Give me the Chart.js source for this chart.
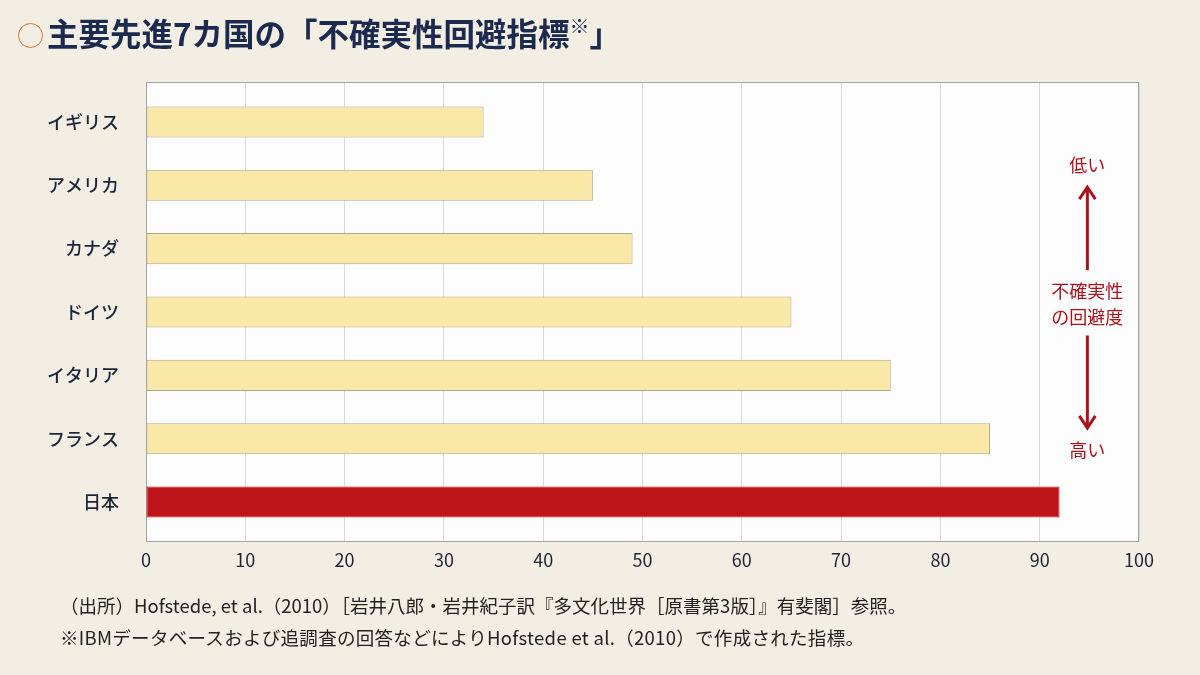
<!DOCTYPE html>
<html lang="ja">
<head>
<meta charset="utf-8">
<title>主要先進7カ国の「不確実性回避指標」</title>
<script src="https://cdn.jsdelivr.net/npm/chart.js@4.4.1/dist/chart.umd.min.js"></script>
<style>
    html, body {
        margin: 0;
        padding: 0;
        background: #f2eee3;
        font-family: "Noto Sans CJK JP", "Noto Sans", sans-serif;
    }
    #wrap {
        position: relative;
        width: 1200px;
        height: 675px;
        overflow: hidden;
    }
    #chart {
        position: absolute;
        left: 0;
        top: 0;
    }
    .title {
        position: absolute;
        left: 18px;
        top: 14px;
        font-size: 31.5px;
        line-height: 36px;
        font-weight: bold;
        color: #1b2a4e;
        white-space: nowrap;
    }
    .title .ring {
        display: inline-block;
        width: 23px;
        height: 23px;
        border: 1.5px solid #d9772e;
        border-radius: 50%;
        margin-right: 4px;
        vertical-align: -2px;
    }
    .title sup {
        font-size: 20px;
        vertical-align: 12px;
        line-height: 0;
    }
    .note {
        position: absolute;
        left: 60px;
        font-size: 18.5px;
        line-height: 22px;
        color: #222;
        white-space: nowrap;
    }
</style>
</head>
<body>
<div id="wrap">
    <canvas id="chart" width="1200" height="675"></canvas>
    <div class="title"><span class="ring"></span>主要先進7カ国の「不確実性回避指標<sup>※</sup>」</div>
    <div class="note" style="top:594px">（出所）Hofstede, et al.（2010）［岩井八郎・岩井紀子訳『多文化世界［原書第3版］』有斐閣］参照。</div>
    <div class="note" style="top:626px; letter-spacing:0.3px">※IBMデータベースおよび追調査の回答などによりHofstede et al.（2010）で作成された指標。</div>
</div>
<script>
// データ
const countries = ['イギリス', 'アメリカ', 'カナダ', 'ドイツ', 'イタリア', 'フランス', '日本'];
const uaiValues = [34, 45, 49, 65, 75, 85, 92];
const xTicks = [0, 10, 20, 30, 40, 50, 60, 70, 80, 90, 100];

const barFill = countries.map(c => c === '日本' ? '#c0141b' : '#fae8a8');
const barEdge = countries.map(c => c === '日本' ? '#c0141b' : '#b3a886');

const navy = '#1e2538';
const darkRed = '#a8141c';

// 背景と枠線、右側の注記
const plotFrame = {
    id: 'plotFrame',
    beforeDraw(chart) {
        const a = chart.chartArea;
        const ctx = chart.ctx;
        ctx.save();
        ctx.fillStyle = '#fdfdfd';
        ctx.fillRect(a.left, a.top, a.right - a.left, a.bottom - a.top);
        ctx.restore();
    },
    beforeDatasetsDraw(chart) {
        const a = chart.chartArea;
        const ctx = chart.ctx;
        ctx.save();
        ctx.strokeStyle = '#a3a3a3';
        ctx.lineWidth = 1;
        ctx.strokeRect(a.left + 0.5, a.top + 0.5, a.right - a.left - 1, a.bottom - a.top - 1);
        ctx.restore();
    },
    afterDatasetsDraw(chart) {
        const xs = chart.scales.x;
        const ys = chart.scales.y;
        const ctx = chart.ctx;
        const cx = xs.getPixelForValue(94.8);
        ctx.save();
        ctx.fillStyle = darkRed;
        ctx.strokeStyle = darkRed;
        ctx.font = '18px "Noto Sans CJK JP"';
        ctx.textAlign = 'center';
        ctx.textBaseline = 'middle';
        ctx.fillText('低い', cx, ys.getPixelForValue(0.69));
        ctx.fillText('不確実性', cx, ys.getPixelForValue(2.67));
        ctx.fillText('の回避度', cx, ys.getPixelForValue(3.08));
        ctx.fillText('高い', cx, ys.getPixelForValue(5.18));

        // 矢印
        const arrow = (y0, y1) => {
            const p0 = ys.getPixelForValue(y0);
            const p1 = ys.getPixelForValue(y1);
            const dir = p1 > p0 ? 1 : -1;
            ctx.lineWidth = 3;
            ctx.lineCap = 'butt';
            ctx.beginPath();
            ctx.moveTo(cx, p0);
            ctx.lineTo(cx, p1 - dir * 1);
            ctx.stroke();
            ctx.lineJoin = 'miter';
            ctx.beginPath();
            ctx.moveTo(cx - 8, p1 - dir * 12);
            ctx.lineTo(cx, p1);
            ctx.lineTo(cx + 8, p1 - dir * 12);
            ctx.stroke();
        };
        arrow(2.34, 1.03);
        arrow(3.37, 4.83);
        ctx.restore();
    }
};

new Chart(document.getElementById('chart'), {
    type: 'bar',
    data: {
        datasets: [{
            data: countries.map((c, i) => ({ x: uaiValues[i], y: i })),
            backgroundColor: barFill,
            borderColor: barEdge,
            borderWidth: 1,
            borderSkipped: false,
            categoryPercentage: 1,
            barPercentage: 0.49
        }]
    },
    options: {
        indexAxis: 'y',
        responsive: false,
        animation: false,
        layout: {
            padding: { top: 82, right: 61, bottom: 0, left: 0 }
        },
        scales: {
            x: {
                type: 'linear',
                min: 0,
                max: 100,
                offset: false,
                afterFit: (scale) => { scale.height = 133; },
                afterBuildTicks: (scale) => { scale.ticks = xTicks.map(v => ({ value: v })); },
                grid: { color: '#dadada', lineWidth: 1, drawTicks: false, offset: false },
                border: { display: false },
                ticks: {
                    padding: 7,
                    color: navy,
                    font: { family: '"Noto Sans CJK JP"', size: 18 }
                }
            },
            y: {
                type: 'linear',
                reverse: true,
                min: -0.63,
                max: 6.63,
                offset: false,
                afterFit: (scale) => { scale.width = 146; },
                afterBuildTicks: (scale) => { scale.ticks = countries.map((c, i) => ({ value: i })); },
                grid: { display: false, drawTicks: false, offset: false },
                border: { display: false },
                ticks: {
                    padding: 27,
                    color: navy,
                    font: { family: '"Noto Sans CJK JP"', size: 18, weight: 500 },
                    callback: (v) => countries[v]
                }
            }
        },
        plugins: {
            legend: { display: false },
            tooltip: { enabled: false }
        }
    },
    plugins: [plotFrame]
});
</script>
</body>
</html>
